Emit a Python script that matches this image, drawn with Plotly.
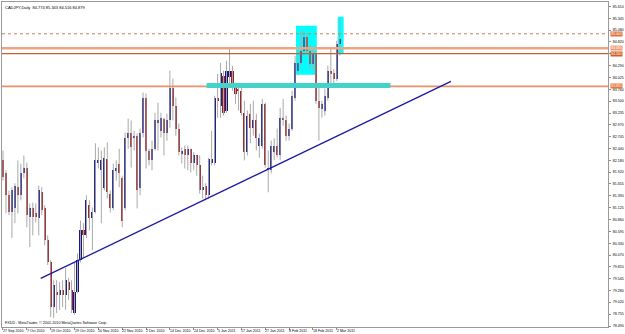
import plotly.graph_objects as go

# ---------------- data (CADJPY daily) ----------------
date_labels = ["27 Sep 2010", "7 Oct 2010", "19 Oct 2010", "29 Oct 2010", "10 Nov 2010",
               "22 Nov 2010", "2 Dec 2010", "14 Dec 2010", "24 Dec 2010", "5 Jan 2011",
               "17 Jan 2011", "27 Jan 2011", "8 Feb 2011", "18 Feb 2011", "2 Mar 2011"]
date_bars = [0, 8, 16, 24, 32, 40, 48, 56, 64, 72, 80, 88, 96, 104, 112]

price_ticks = [78.490, 78.755, 79.020, 79.280, 79.545, 79.810, 80.070,
               80.330, 80.595, 80.860, 81.125, 81.390, 81.655, 81.920,
               82.180, 82.440, 82.705, 82.970, 83.235, 83.500, 83.760,
               84.025, 84.290, 84.555, 84.820, 85.080, 85.345, 85.610]
# the 84.555 label is hidden under a price tag in the picture
price_labels = ["78.490", "78.755", "79.020", "79.280", "79.545", "79.810", "80.070",
                "80.330", "80.595", "80.860", "81.125", "81.390", "81.655", "81.920",
                "82.180", "82.440", "82.705", "82.970", "83.235", "83.500", "83.760",
                "84.025", "84.290", "", "84.820", "85.080", "85.345", "85.610"]

opens = [82.18, 81.89, 81.40, 81.02, 81.11, 81.58, 81.40, 81.89, 82.00, 80.91,
         81.11, 81.00, 80.89, 81.47, 81.13, 80.40, 79.91, 78.91, 79.25, 79.18,
         79.29, 79.18, 79.47, 79.29, 78.78, 79.25, 79.96, 80.62, 80.51, 81.18,
         80.89, 81.02, 82.13, 81.96, 81.56, 82.22, 81.44, 81.13, 81.96, 82.11,
         81.78, 81.13, 82.69, 82.80, 82.67, 82.73, 81.56, 82.78, 83.58, 82.40,
         82.18, 82.44, 83.02, 82.84, 83.11, 82.78, 83.07, 83.80, 83.40, 82.89,
         82.33, 82.44, 82.29, 82.44, 82.13, 82.29, 82.07, 81.51, 81.62, 81.40,
         82.13, 82.13, 83.58, 83.40, 84.07, 83.29, 84.04, 84.18, 83.84, 83.78,
         83.73, 83.24, 82.36, 83.22, 82.91, 83.07, 82.51, 82.51, 83.44, 81.96,
         81.96, 82.36, 82.51, 82.29, 83.13, 83.07, 82.73, 82.89, 83.58, 84.18,
         84.35, 84.62, 84.93, 84.62, 84.33, 84.58, 83.51, 83.33, 83.29, 83.58,
         84.18, 84.13, 84.00, 84.774]
highs = [82.40, 81.96, 81.51, 81.58, 81.67, 82.18, 82.11, 82.29, 82.13, 81.22,
         81.24, 81.22, 81.62, 81.58, 81.18, 80.51, 79.96, 79.51, 79.51, 79.47,
         79.51, 79.78, 79.56, 79.51, 79.91, 80.11, 80.84, 80.78, 81.40, 81.29,
         81.13, 82.56, 82.47, 82.40, 82.47, 82.58, 81.51, 82.11, 82.18, 82.44,
         81.84, 82.80, 83.11, 83.07, 82.84, 82.78, 82.89, 83.69, 83.67, 82.44,
         82.62, 83.24, 83.47, 83.24, 83.13, 83.22, 84.18, 84.00, 83.58, 83.00,
         82.47, 82.51, 82.51, 82.44, 82.36, 82.29, 82.29, 81.84, 81.67, 82.24,
         82.84, 83.62, 84.11, 84.35, 84.18, 84.40, 84.69, 84.29, 83.91, 83.84,
         83.84, 83.51, 83.29, 83.44, 83.51, 83.22, 82.78, 83.55, 83.47, 82.40,
         82.62, 82.67, 82.89, 83.35, 83.55, 83.18, 83.00, 83.73, 84.51, 84.62,
         85.07, 85.07, 85.02, 84.75, 84.67, 84.62, 83.80, 83.51, 83.78, 84.29,
         84.69, 84.22, 84.84, 85.343]
lows = [81.73, 81.00, 80.96, 80.45, 80.78, 81.00, 81.29, 81.78, 80.69, 80.25,
        80.51, 80.80, 80.51, 80.96, 80.29, 79.85, 78.69, 78.67, 78.78, 78.85,
        78.91, 78.85, 79.07, 78.78, 78.74, 79.22, 79.91, 80.00, 80.45, 80.62,
        80.18, 81.00, 82.00, 80.78, 81.51, 81.33, 81.02, 81.07, 81.73, 81.58,
        80.69, 81.07, 82.44, 82.02, 82.40, 81.11, 81.40, 82.69, 82.00, 82.07,
        81.96, 82.40, 82.40, 82.69, 82.29, 82.62, 82.91, 83.07, 82.73, 82.29,
        82.11, 82.00, 81.96, 81.91, 81.96, 81.84, 81.44, 81.33, 81.29, 81.33,
        82.07, 82.07, 83.13, 83.13, 83.18, 83.24, 83.89, 83.73, 83.44, 83.29,
        83.18, 82.18, 82.29, 82.56, 82.73, 82.40, 82.24, 82.44, 82.02, 81.47,
        81.89, 82.18, 82.24, 82.18, 82.95, 82.62, 82.62, 82.84, 83.51, 84.07,
        84.29, 84.51, 84.55, 84.22, 84.18, 83.44, 82.62, 83.13, 83.18, 83.51,
        83.89, 83.80, 83.95, 84.516]
closes = [81.80, 81.40, 81.02, 81.51, 81.62, 81.40, 81.89, 82.00, 80.96, 81.13,
          80.91, 80.91, 81.51, 81.07, 80.40, 79.91, 78.91, 79.40, 79.18, 79.29,
          79.18, 79.51, 79.29, 78.85, 79.25, 79.96, 80.62, 80.51, 81.29, 80.89,
          81.02, 82.18, 82.18, 82.18, 82.24, 81.47, 81.13, 81.96, 82.00, 81.91,
          80.84, 82.69, 82.80, 82.47, 82.73, 81.51, 82.78, 83.58, 82.40, 82.18,
          82.44, 83.07, 83.07, 83.13, 82.78, 83.07, 83.80, 83.40, 82.89, 82.36,
          82.40, 82.29, 82.44, 82.13, 82.29, 82.07, 81.51, 81.58, 81.40, 82.22,
          82.22, 83.58, 83.51, 84.13, 83.24, 84.18, 84.18, 83.84, 83.67, 83.73,
          83.24, 82.36, 83.18, 82.91, 83.07, 82.69, 82.67, 83.44, 82.07, 82.02,
          82.51, 82.51, 82.29, 83.13, 83.07, 82.73, 82.89, 83.62, 84.35, 84.35,
          84.62, 84.93, 84.62, 84.33, 84.58, 83.51, 83.35, 83.44, 83.62, 84.18,
          84.11, 84.00, 84.78, 84.879]

# drawn objects (price levels / trend line / highlight boxes)
level_prices = [85.000, 84.680, 84.560, 83.830]
trend_x = [12.67, 150.3]
trend_y = [79.55, 83.94]
band_x = [68.3, 130.0]
band_price = 83.848
box1 = [98.3, 105.3, 84.09, 85.18]
box2 = [112.3, 114.3, 84.55, 85.38]

title_text = "CADJPY,Daily  84.774 85.343 84.516 84.879"
copyright_text = "FXDD - MetaTrader, \u00a9 2001-2010 MetaQuotes Software Corp."

# ---------------- figure ----------------
idx = list(range(len(opens)))
BULL = "#161683"
BEAR = "#9B1B1F"
WICK = "#A9A9A9"

wx, wy = [], []
for i in idx:
    wx += [i, i, None]
    wy += [lows[i], highs[i], None]

fig = go.Figure()
fig.add_trace(go.Scatter(x=wx, y=wy, mode="lines", line=dict(color=WICK, width=1),
                         hoverinfo="skip"))
bx = [i for i in idx if closes[i] >= opens[i]]
sx = [i for i in idx if closes[i] < opens[i]]
fig.add_trace(go.Bar(x=bx, base=[opens[i] for i in bx],
                     y=[max(closes[i] - opens[i], 0.012) for i in bx],
                     width=0.7, marker=dict(color=BULL, line=dict(width=0))))
fig.add_trace(go.Bar(x=sx, base=[closes[i] for i in sx],
                     y=[max(opens[i] - closes[i], 0.012) for i in sx],
                     width=0.7, marker=dict(color=BEAR, line=dict(width=0))))

shapes = []
for b in (box1, box2):
    shapes.append(dict(type="rect", xref="x", yref="y", x0=b[0], x1=b[1], y0=b[2], y1=b[3],
                       fillcolor="#00FFFF", line=dict(width=0), layer="below"))
lvl_styles = [dict(color="#C9835A", width=1, dash="dot"),
              dict(color="#EBA585", width=2.6),
              dict(color="#C2622E", width=1.2),
              dict(color="#E9936A", width=1.8)]
for p, st in zip(level_prices, lvl_styles):
    shapes.append(dict(type="line", xref="paper", yref="y", x0=0, x1=1, y0=p, y1=p,
                       line=st, layer="above"))
shapes.append(dict(type="line", xref="x", yref="y", x0=band_x[0], x1=band_x[1],
                   y0=band_price, y1=band_price, line=dict(color="#43D3CB", width=5),
                   layer="above"))
shapes.append(dict(type="line", xref="x", yref="y", x0=trend_x[0], x1=trend_x[1],
                   y0=trend_y[0], y1=trend_y[1], line=dict(color="#1A1AA0", width=1.3),
                   layer="above"))

annotations = []
FONT = "Liberation Sans"
annotations.append(dict(xref="paper", yref="paper", x=0, y=1, xanchor="left", yanchor="top",
                        text=title_text, showarrow=False, xshift=1, yshift=-1,
                        font=dict(family=FONT, size=4, color="#000000")))
annotations.append(dict(xref="paper", yref="paper", x=0, y=0, xanchor="left", yanchor="bottom",
                        text=copyright_text, showarrow=False, xshift=1, yshift=0,
                        font=dict(family=FONT, size=3.7, color="#000000")))
for b, lab in zip(date_bars, date_labels):
    annotations.append(dict(xref="x", yref="paper", x=b, y=0, xanchor="left", yanchor="middle",
                            text=lab, showarrow=False, xshift=-1, yshift=-4,
                            font=dict(family=FONT, size=3.6, color="#000000"),
                            borderpad=0))
tag_colors = ["#E2703E", "#EE9A78", "#CF5F2A", "#E5763F"]
for p, c in zip(level_prices, tag_colors):
    annotations.append(dict(xref="paper", yref="y", x=1, y=p, xanchor="left", yanchor="middle",
                            text="%.3f" % p, showarrow=False, xshift=2, bgcolor=c,
                            height=4, width=11, borderpad=0,
                            font=dict(family=FONT, size=3.4, color="#FFFFFF")))

fig.update_layout(
    width=625, height=334,
    margin=dict(l=1, r=14, t=1, b=7),
    paper_bgcolor="#FFFFFF", plot_bgcolor="#FFFFFF",
    showlegend=False, barmode="overlay", bargap=0,
    shapes=shapes, annotations=annotations,
    hovermode=False,
)
fig.update_xaxes(range=[-0.333, 203.0], showgrid=False, zeroline=False,
                 tickmode="array", tickvals=date_bars, showticklabels=False,
                 ticks="outside", ticklen=2, tickcolor="#8C8C8C",
                 showline=True, linecolor="#9A9A9A", linewidth=1, mirror=True, fixedrange=True)
fig.update_yaxes(range=[78.468, 85.709], side="right", showgrid=False, zeroline=False,
                 tickmode="array", tickvals=price_ticks, ticktext=price_labels,
                 ticks="outside", ticklen=2, tickcolor="#8C8C8C",
                 tickfont=dict(family=FONT, size=3.6, color="#000000"),
                 ticklabelstandoff=1,
                 showline=True, linecolor="#9A9A9A", linewidth=1, mirror=True, fixedrange=True)

fig.write_html("out.html", config={"displayModeBar": False})
